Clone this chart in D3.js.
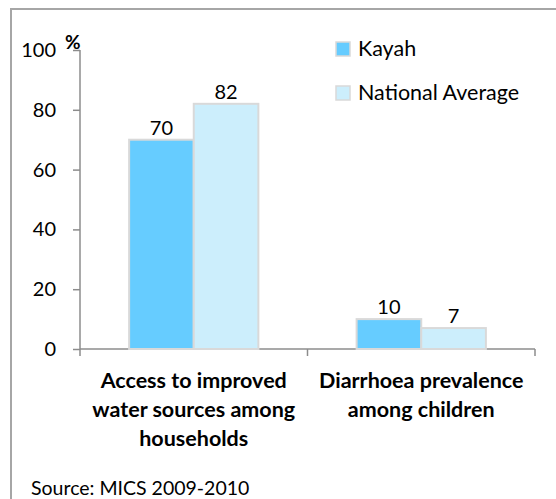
<!DOCTYPE html>
<html>
<head>
<meta charset="utf-8">
<script src="https://cdn.jsdelivr.net/npm/d3@7"></script>
<style>
  body { margin: 0; background: #fff; }
  svg { display: block; font-family: Lato, "Open Sans", sans-serif; }
  .axis path, .axis line { stroke: #8c8c8c; stroke-width: 1.5; }
  .axis text { font-size: 20px; fill: #000; font-family: Lato, sans-serif; }
</style>
</head>
<body>
<svg id="chart" width="556" height="499"></svg>
<script>
var categories = [["Access to improved", "water sources among", "households"], ["Diarrhoea prevalence", "among children"]];
var series = ["Kayah", "National Average"];
var kayah = [70, 10];
var national = [82, 7];
var yTicks = [0, 20, 40, 60, 80, 100];
var colors = ["#66ccff", "#cceefc"];

var svg = d3.select("#chart");
var pad_left = 80, pad_right = 21, pad_top = 50, pad_bot = 150;
var width = 556, height = 499;

// outer frame, runs off the picture on the right and bottom
svg.append("rect")
        .attr("x", 11).attr("y", 9)
        .attr("width", 600).attr("height", 600)
        .attr("fill", "none")
        .attr("stroke", "#a6a6a6")
        .attr("stroke-width", 2);

var x0 = d3.scaleBand().domain(d3.range(categories.length))
        .range([pad_left, width - pad_right]).paddingInner(0).paddingOuter(0);
var x1 = d3.scaleBand().domain(series).range([0, x0.bandwidth()]).paddingOuter(0.76).paddingInner(0);
var y = d3.scaleLinear().domain([0, 100]).range([height - pad_bot, pad_top]);

var yAxis = d3.axisLeft(y).tickValues(yTicks).tickSize(7).tickPadding(17);
var gy = svg.append("g").attr("class", "axis")
        .attr("transform", "translate(" + pad_left + ",0)")
        .call(yAxis);
gy.select(".domain").attr("d", "M0," + y(100) + "V" + y(0));

var gx = svg.append("g").attr("class", "axis")
        .attr("transform", "translate(0," + y(0) + ")");
gx.append("path").attr("class", "domain")
        .attr("d", "M" + pad_left + ",0H" + (width - pad_right));
var bounds = [pad_left, pad_left + x0.bandwidth(), width - pad_right];
gx.selectAll("line.tk").data(bounds).enter().append("line")
        .attr("x1", function (d) { return d; }).attr("x2", function (d) { return d; })
        .attr("y1", 0).attr("y2", 7);

svg.append("text").text("%")
        .attr("x", 65).attr("y", 49)
        .style("font-size", "19px").style("font-weight", "bold");

var data = [];
for (var i = 0; i < categories.length; i++) {
    data.push({c: i, s: series[0], v: kayah[i], col: colors[0]});
    data.push({c: i, s: series[1], v: national[i], col: colors[1]});
}

svg.selectAll("rect.bar").data(data).enter().append("rect")
        .attr("class", "bar")
        .attr("x", function (d) { return x0(d.c) + x1(d.s); })
        .attr("y", function (d) { return y(d.v); })
        .attr("width", x1.bandwidth())
        .attr("height", function (d) { return y(0) - y(d.v); })
        .attr("fill", function (d) { return d.col; })
        .attr("stroke", "#d9d9d9")
        .attr("stroke-width", 2);

svg.selectAll("text.val").data(data).enter().append("text")
        .attr("class", "val")
        .attr("x", function (d) { return x0(d.c) + x1(d.s) + x1.bandwidth() / 2; })
        .attr("y", function (d) { return y(d.v) - 5; })
        .attr("text-anchor", "middle")
        .style("font-size", "20px")
        .text(function (d) { return d.v; });

categories.forEach(function (lines, i) {
    var t = svg.append("text")
            .attr("text-anchor", "middle")
            .style("font-size", "21.5px").style("font-weight", "bold");
    lines.forEach(function (l, j) {
        t.append("tspan")
                .attr("x", x0(i) + x0.bandwidth() / 2)
                .attr("y", 388 + j * 29)
                .text(l);
    });
});

var leg = svg.selectAll("g.leg").data(series).enter().append("g")
        .attr("class", "leg")
        .attr("transform", function (d, i) { return "translate(336," + (42 + i * 44) + ")"; });
leg.append("rect").attr("width", 14).attr("height", 14)
        .attr("fill", function (d, i) { return colors[i]; })
        .attr("stroke", "#d9d9d9").attr("stroke-width", 1.5);
leg.append("text").attr("x", 22).attr("y", 14)
        .style("font-size", "21.5px")
        .text(function (d) { return d; });

svg.append("text").text("Source: MICS 2009-2010")
        .attr("x", 31).attr("y", 495)
        .style("font-size", "19.5px");
</script>
</body>
</html>
